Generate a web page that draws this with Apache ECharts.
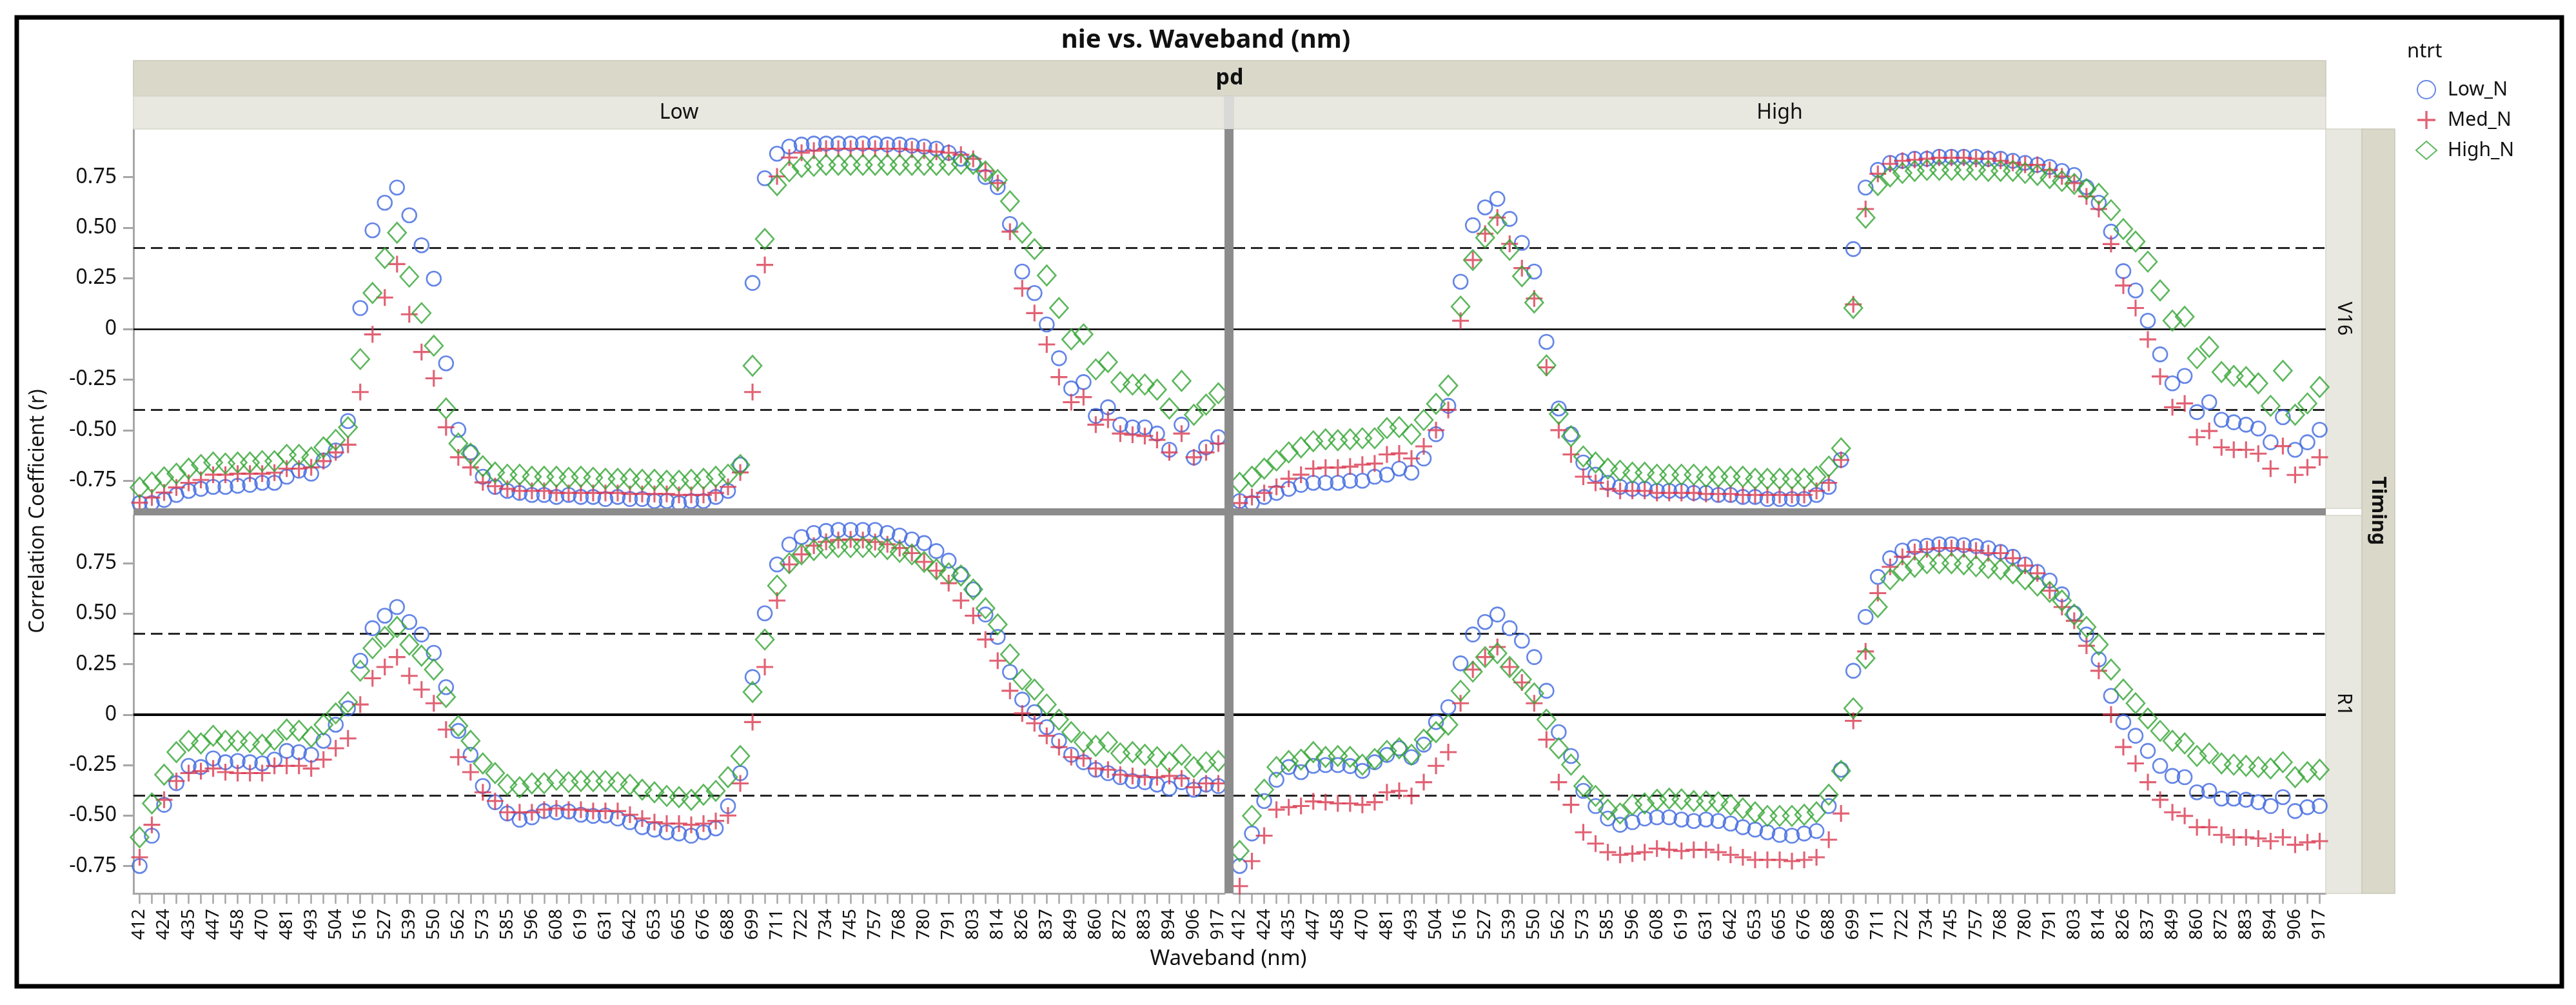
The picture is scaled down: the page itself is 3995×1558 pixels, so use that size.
<!DOCTYPE html>
<html><head><meta charset="utf-8">
<script src="https://cdn.jsdelivr.net/npm/echarts@6/dist/echarts.min.js"></script>
<style>html,body{margin:0;padding:0;background:#fff}#c{width:3995px;height:1558px}</style>
</head><body><div id="c"></div><script>
// ---------- DATA ----------
const wavebands = [412,418,424,430,435,441,447,452,458,464,470,475,481,487,493,498,504,510,516,521,527,533,539,544,550,556,562,567,573,579,585,590,596,602,608,613,619,625,631,636,642,647,653,659,665,670,676,682,688,693,699,705,711,716,722,728,734,739,745,751,757,762,768,774,780,785,791,797,803,808,814,820,826,831,837,843,849,854,860,866,872,877,883,889,894,900,906,911,917];
const yTicks = [-0.75,-0.5,-0.25,0,0.25,0.5,0.75];
const thresholds = [0.4,-0.4];
const seriesNames = ['Low_N','Med_N','High_N'];
const pdLevels = ['Low','High'];
const timingLevels = ['V16','R1'];

// Timing V16, pd Low
const lowN_V16_Low = [-0.86,-0.86,-0.845,-0.82,-0.80,-0.79,-0.78,-0.78,-0.775,-0.77,
 -0.76,-0.76,-0.73,-0.70,-0.715,-0.65,-0.60,-0.455,0.103,0.487,
 0.623,0.698,0.561,0.413,0.248,-0.17,-0.498,-0.61,-0.73,-0.78,
 -0.80,-0.81,-0.82,-0.82,-0.83,-0.82,-0.83,-0.83,-0.84,-0.83,
 -0.84,-0.84,-0.85,-0.85,-0.86,-0.85,-0.85,-0.83,-0.80,-0.67,
 0.227,0.744,0.865,0.90,0.91,0.915,0.915,0.915,0.915,0.915,
 0.915,0.91,0.91,0.905,0.90,0.89,0.87,0.84,0.82,0.75,
 0.70,0.518,0.283,0.177,0.022,-0.145,-0.294,-0.263,-0.43,-0.387,
 -0.473,-0.486,-0.486,-0.517,-0.597,-0.473,-0.635,-0.585,-0.535];
const medN_V16_Low = [-0.858,-0.833,-0.808,-0.783,-0.76,-0.746,-0.72,-0.72,-0.715,-0.715,
 -0.715,-0.71,-0.69,-0.69,-0.684,-0.653,-0.61,-0.572,-0.312,-0.027,
 0.155,0.32,0.072,-0.114,-0.244,-0.486,-0.634,-0.684,-0.758,-0.777,
 -0.79,-0.80,-0.80,-0.80,-0.81,-0.81,-0.81,-0.81,-0.81,-0.81,
 -0.815,-0.815,-0.815,-0.815,-0.82,-0.82,-0.82,-0.81,-0.78,-0.709,
 -0.312,0.316,0.753,0.846,0.87,0.88,0.89,0.89,0.89,0.89,
 0.89,0.89,0.89,0.885,0.88,0.875,0.87,0.86,0.84,0.78,
 0.72,0.48,0.20,0.078,-0.077,-0.238,-0.362,-0.337,-0.473,-0.449,
 -0.517,-0.523,-0.529,-0.548,-0.61,-0.517,-0.634,-0.61,-0.566];
const highN_V16_Low = [-0.783,-0.758,-0.733,-0.715,-0.69,-0.672,-0.66,-0.665,-0.66,-0.66,
 -0.653,-0.653,-0.622,-0.622,-0.635,-0.585,-0.548,-0.486,-0.149,0.177,
 0.35,0.475,0.258,0.078,-0.083,-0.393,-0.566,-0.616,-0.678,-0.709,
 -0.72,-0.72,-0.73,-0.73,-0.73,-0.735,-0.73,-0.735,-0.74,-0.74,
 -0.74,-0.745,-0.745,-0.75,-0.75,-0.745,-0.74,-0.73,-0.72,-0.672,
 -0.182,0.444,0.71,0.778,0.80,0.805,0.81,0.81,0.81,0.81,
 0.81,0.81,0.81,0.81,0.81,0.81,0.81,0.815,0.815,0.778,
 0.735,0.63,0.475,0.394,0.264,0.103,-0.052,-0.027,-0.20,-0.164,
 -0.263,-0.275,-0.275,-0.30,-0.393,-0.257,-0.424,-0.374,-0.318];

// Timing V16, pd High
const lowN_V16_High = [-0.85,-0.86,-0.83,-0.81,-0.79,-0.77,-0.76,-0.76,-0.76,-0.75,
 -0.75,-0.73,-0.72,-0.69,-0.71,-0.64,-0.52,-0.38,0.233,0.512,
 0.60,0.642,0.543,0.425,0.283,-0.064,-0.393,-0.52,-0.66,-0.72,
 -0.76,-0.78,-0.79,-0.79,-0.80,-0.80,-0.80,-0.81,-0.81,-0.82,
 -0.82,-0.83,-0.83,-0.84,-0.84,-0.84,-0.84,-0.82,-0.78,-0.647,
 0.394,0.698,0.785,0.82,0.83,0.84,0.84,0.85,0.85,0.85,
 0.85,0.84,0.84,0.83,0.82,0.81,0.80,0.78,0.76,0.70,
 0.623,0.48,0.285,0.19,0.04,-0.126,-0.269,-0.232,-0.411,-0.362,
 -0.449,-0.461,-0.473,-0.492,-0.56,-0.436,-0.597,-0.56,-0.498];
const medN_V16_High = [-0.86,-0.83,-0.81,-0.78,-0.74,-0.72,-0.69,-0.685,-0.685,-0.68,
 -0.67,-0.665,-0.62,-0.615,-0.64,-0.58,-0.50,-0.40,0.04,0.34,
 0.47,0.55,0.42,0.30,0.15,-0.19,-0.50,-0.62,-0.73,-0.76,
 -0.79,-0.80,-0.80,-0.80,-0.81,-0.81,-0.81,-0.81,-0.815,-0.815,
 -0.815,-0.82,-0.82,-0.82,-0.82,-0.82,-0.82,-0.80,-0.76,-0.647,
 0.121,0.592,0.766,0.815,0.83,0.835,0.84,0.845,0.845,0.845,
 0.84,0.84,0.83,0.82,0.81,0.81,0.785,0.753,0.72,0.654,
 0.592,0.419,0.214,0.103,-0.052,-0.235,-0.387,-0.368,-0.535,-0.504,
 -0.585,-0.597,-0.597,-0.616,-0.69,-0.579,-0.721,-0.684,-0.634];
const highN_V16_High = [-0.76,-0.73,-0.69,-0.65,-0.61,-0.585,-0.555,-0.545,-0.55,-0.545,
 -0.54,-0.54,-0.49,-0.485,-0.52,-0.45,-0.37,-0.28,0.11,0.34,
 0.45,0.52,0.39,0.26,0.13,-0.18,-0.42,-0.53,-0.63,-0.66,
 -0.69,-0.70,-0.71,-0.71,-0.72,-0.72,-0.72,-0.72,-0.73,-0.73,
 -0.73,-0.73,-0.74,-0.74,-0.74,-0.74,-0.74,-0.73,-0.68,-0.59,
 0.103,0.549,0.71,0.753,0.77,0.78,0.785,0.785,0.785,0.785,
 0.785,0.78,0.78,0.78,0.77,0.76,0.745,0.73,0.716,0.69,
 0.667,0.586,0.493,0.431,0.332,0.19,0.041,0.06,-0.145,-0.089,
 -0.213,-0.232,-0.238,-0.269,-0.38,-0.207,-0.424,-0.368,-0.287];

// Timing R1, pd Low
const lowN_R1_Low = [-0.75,-0.60,-0.447,-0.34,-0.254,-0.26,-0.217,-0.236,-0.23,-0.236,
 -0.242,-0.223,-0.18,-0.186,-0.199,-0.13,-0.05,0.031,0.267,0.428,
 0.49,0.533,0.459,0.397,0.306,0.136,-0.081,-0.199,-0.354,-0.434,
 -0.49,-0.521,-0.509,-0.478,-0.484,-0.48,-0.496,-0.502,-0.50,-0.515,
 -0.533,-0.558,-0.57,-0.583,-0.589,-0.60,-0.583,-0.564,-0.453,-0.29,
 0.186,0.502,0.744,0.843,0.88,0.90,0.91,0.915,0.915,0.915,
 0.915,0.90,0.887,0.868,0.85,0.81,0.763,0.695,0.62,0.496,
 0.385,0.211,0.074,0.012,-0.062,-0.13,-0.199,-0.236,-0.273,-0.29,
 -0.31,-0.329,-0.335,-0.347,-0.366,-0.335,-0.372,-0.347,-0.354];
const medN_R1_Low = [-0.707,-0.546,-0.422,-0.329,-0.29,-0.28,-0.267,-0.285,-0.29,-0.29,
 -0.29,-0.254,-0.254,-0.254,-0.267,-0.223,-0.167,-0.118,0.05,0.18,
 0.236,0.285,0.192,0.124,0.056,-0.074,-0.211,-0.285,-0.385,-0.428,
 -0.484,-0.484,-0.484,-0.471,-0.465,-0.471,-0.471,-0.478,-0.478,-0.478,
 -0.496,-0.515,-0.533,-0.54,-0.54,-0.546,-0.54,-0.527,-0.50,-0.341,
 -0.037,0.236,0.565,0.744,0.794,0.837,0.856,0.865,0.868,0.865,
 0.855,0.844,0.825,0.80,0.757,0.713,0.651,0.565,0.49,0.372,
 0.267,0.118,0.006,-0.043,-0.105,-0.161,-0.211,-0.217,-0.267,-0.273,
 -0.298,-0.304,-0.31,-0.31,-0.304,-0.316,-0.36,-0.341,-0.341];
const highN_R1_Low = [-0.608,-0.44,-0.298,-0.186,-0.13,-0.143,-0.105,-0.13,-0.13,-0.136,
 -0.149,-0.125,-0.074,-0.08,-0.11,-0.05,0.006,0.062,0.217,0.329,
 0.385,0.434,0.347,0.292,0.223,0.087,-0.056,-0.13,-0.242,-0.29,
 -0.347,-0.36,-0.341,-0.34,-0.323,-0.335,-0.329,-0.33,-0.33,-0.335,
 -0.347,-0.372,-0.385,-0.403,-0.409,-0.422,-0.397,-0.378,-0.31,-0.205,
 0.112,0.372,0.639,0.75,0.794,0.815,0.825,0.83,0.83,0.83,
 0.83,0.82,0.806,0.794,0.757,0.72,0.70,0.689,0.62,0.527,
 0.447,0.298,0.174,0.124,0.05,-0.025,-0.087,-0.136,-0.155,-0.136,
 -0.192,-0.186,-0.199,-0.211,-0.236,-0.199,-0.26,-0.236,-0.23];

// Timing R1, pd High
const lowN_R1_High = [-0.75,-0.589,-0.428,-0.323,-0.26,-0.285,-0.254,-0.25,-0.25,-0.255,
 -0.279,-0.236,-0.20,-0.167,-0.211,-0.149,-0.037,0.037,0.254,0.397,
 0.459,0.496,0.428,0.366,0.285,0.118,-0.087,-0.205,-0.378,-0.453,
 -0.515,-0.546,-0.533,-0.515,-0.509,-0.509,-0.52,-0.527,-0.52,-0.527,
 -0.54,-0.558,-0.57,-0.583,-0.596,-0.60,-0.589,-0.577,-0.453,-0.273,
 0.217,0.484,0.682,0.775,0.813,0.831,0.837,0.844,0.844,0.84,
 0.835,0.825,0.806,0.782,0.744,0.707,0.664,0.596,0.502,0.397,
 0.273,0.093,-0.037,-0.105,-0.18,-0.254,-0.304,-0.31,-0.385,-0.378,
 -0.416,-0.416,-0.422,-0.434,-0.453,-0.409,-0.478,-0.459,-0.453];
const medN_R1_High = [-0.85,-0.726,-0.60,-0.471,-0.459,-0.453,-0.43,-0.434,-0.44,-0.44,
 -0.447,-0.434,-0.385,-0.378,-0.403,-0.335,-0.254,-0.186,0.056,0.223,
 0.285,0.335,0.236,0.159,0.056,-0.124,-0.335,-0.447,-0.583,-0.639,
 -0.682,-0.695,-0.689,-0.682,-0.664,-0.67,-0.676,-0.67,-0.67,-0.682,
 -0.695,-0.707,-0.72,-0.72,-0.72,-0.726,-0.72,-0.707,-0.62,-0.49,
 -0.031,0.313,0.602,0.732,0.782,0.806,0.819,0.825,0.825,0.82,
 0.813,0.80,0.80,0.775,0.738,0.70,0.614,0.533,0.465,0.341,
 0.217,0.0,-0.161,-0.242,-0.335,-0.422,-0.484,-0.502,-0.558,-0.558,
 -0.596,-0.608,-0.608,-0.614,-0.627,-0.608,-0.645,-0.633,-0.627];
const highN_R1_High = [-0.676,-0.502,-0.372,-0.26,-0.23,-0.223,-0.186,-0.21,-0.205,-0.21,
 -0.248,-0.22,-0.18,-0.167,-0.199,-0.124,-0.087,-0.05,0.118,0.213,
 0.285,0.304,0.236,0.174,0.105,-0.025,-0.167,-0.248,-0.354,-0.403,
 -0.471,-0.49,-0.447,-0.44,-0.422,-0.416,-0.42,-0.428,-0.43,-0.434,
 -0.447,-0.465,-0.484,-0.502,-0.502,-0.502,-0.496,-0.484,-0.397,-0.279,
 0.031,0.279,0.533,0.67,0.713,0.732,0.75,0.75,0.75,0.745,
 0.735,0.726,0.72,0.70,0.67,0.639,0.608,0.565,0.496,0.434,
 0.347,0.223,0.124,0.056,-0.019,-0.081,-0.13,-0.143,-0.205,-0.192,
 -0.242,-0.248,-0.254,-0.26,-0.267,-0.236,-0.31,-0.285,-0.273];

// ---------- LAYOUT / STYLE ----------
const FONT = '"Noto Sans","Open Sans",sans-serif';
const AXIS_GRAY = '#a6a6a6';
const SEP_GRAY = '#8c8c8c';
const STRIP_DARK = '#dad8c9';
const STRIP_LIGHT = '#e8e8e0';
const grids = [
  {left:207, top:200, width:1692, height:588},
  {left:1913, top:200, width:1694, height:588},
  {left:207, top:799, width:1692, height:586},
  {left:1913, top:799, width:1694, height:586},
  {left:207, top:200, width:1692, height:1185}   // holder for the shared y-axis title
];
const Y_MIN = -0.886, Y_MAX = 0.987;

const panels = [
  {g:0, data:[lowN_V16_Low, medN_V16_Low, highN_V16_Low], zeroW:2.5},
  {g:1, data:[lowN_V16_High, medN_V16_High, highN_V16_High], zeroW:2.5},
  {g:2, data:[lowN_R1_Low, medN_R1_Low, highN_R1_Low], zeroW:4},
  {g:3, data:[lowN_R1_High, medN_R1_High, highN_R1_High], zeroW:4}
];

const markerStyle = {
  Low_N: {symbol:'circle', symbolSize:22, itemStyle:{color:'rgba(255,255,255,0)', borderColor:'#3f68e0', borderWidth:2.6}},
  Med_N: {symbol:'path://M44,0H56V44H100V56H56V100H44V56H0V44H44Z', symbolSize:26, itemStyle:{color:'#d93a50'}},
  High_N: {symbol:'diamond', symbolSize:[28,31], itemStyle:{color:'rgba(255,255,255,0)', borderColor:'#35a535', borderWidth:2.6}}
};

const xAxes = grids.slice(0,4).map((g,i) => {
  const bottom = i >= 2;
  return {
    gridIndex:i, type:'category', data: wavebands.map(String), boundaryGap:true,
    axisLine:{show:bottom, onZero:false, lineStyle:{color:AXIS_GRAY, width:3}},
    axisTick:{show:bottom, alignWithLabel:true, interval:0, length:16, lineStyle:{color:AXIS_GRAY, width:2.5}},
    axisLabel:{show:bottom, interval:1, rotate:90, fontSize:28, margin:24, color:'#111', fontFamily:FONT},
    splitLine:{show:false}
  };
});
xAxes.push({gridIndex:4, type:'value', show:false, min:0, max:1});

const yAxes = grids.slice(0,4).map((g,i) => {
  const left = (i % 2) === 0;
  return {
    gridIndex:i, type:'value', min:Y_MIN, max:Y_MAX,
    axisLine:{show:left, lineStyle:{color:AXIS_GRAY, width:3}},
    axisTick:{show:left, length:16, customValues:yTicks, lineStyle:{color:AXIS_GRAY, width:3}},
    axisLabel:{show:left, customValues:yTicks, fontSize:32, margin:26, color:'#111', fontFamily:FONT,
      formatter: v => (Math.abs(v) < 1e-9 ? '0' : v.toFixed(2))},
    splitLine:{show:false}
  };
});
yAxes.push({gridIndex:4, type:'value', min:0, max:1,
  name:'Correlation Coefficient (r)', nameLocation:'middle', nameGap:132,
  nameTextStyle:{fontSize:32, color:'#111', fontFamily:FONT},
  axisLine:{show:false}, axisTick:{show:false}, axisLabel:{show:false}, splitLine:{show:false}});

const series = [];
panels.forEach(p => {
  seriesNames.forEach((nm, k) => {
    const s = Object.assign({
      name:nm, type:'scatter', xAxisIndex:p.g, yAxisIndex:p.g, data:p.data[k],
      silent:true, emphasis:{disabled:true}, animation:false, z:3+k
    }, markerStyle[nm]);
    if (k === 0) {
      const ml = [{yAxis:0, lineStyle:{color:'#000', width:p.zeroW, type:'solid'}}];
      thresholds.forEach(t => ml.push({yAxis:t, lineStyle:{color:'#262626', width:3, type:[18,9]}}));
      s.markLine = {silent:true, symbol:['none','none'], label:{show:false}, animation:false, data:ml, z:1};
    }
    series.push(s);
  });
});

function txt(x, y, text, size, opts) {
  opts = opts || {};
  return {type:'text', x:x, y:y, rotation:opts.rot || 0, z:opts.z || 50,
    style:{text:text, fill:'#111', font:(opts.bold ? 'bold ' : '') + size + 'px ' + FONT,
      textAlign:opts.align || 'center', textVerticalAlign:'middle', align:opts.align || 'center', verticalAlign:'middle'}};
}
function rect(x, y, w, h, fill, z, stroke) {
  return {type:'rect', z:z || 1, shape:{x:x, y:y, width:w, height:h},
    style:{fill:fill, stroke:stroke || null, lineWidth:stroke ? 1.5 : 0}};
}

const graphic = [
  rect(207, 94, 3400, 55, STRIP_DARK, 1, '#c9c7b8'),
  rect(207, 149, 1692, 51, STRIP_LIGHT, 1, '#d6d5c9'),
  rect(1913, 149, 1694, 51, STRIP_LIGHT, 1, '#d6d5c9'),
  rect(1899, 149, 14, 51, '#d9d9d9', 1),
  rect(3607, 200, 56, 588, STRIP_LIGHT, 1, '#d6d5c9'),
  rect(3607, 799, 56, 586, STRIP_LIGHT, 1, '#d6d5c9'),
  rect(3663, 200, 51, 1185, STRIP_DARK, 1, '#c9c7b8'),
  rect(1899, 200, 14, 1185, SEP_GRAY, 60),
  rect(207, 788, 3400, 11, SEP_GRAY, 60),
  txt(1870, 63, 'nie vs. Waveband (nm)', 40, {bold:true}),
  txt(1907, 121, 'pd', 34, {bold:true}),
  txt(1053, 175, pdLevels[0], 32),
  txt(2760, 175, pdLevels[1], 32),
  txt(3635, 494, timingLevels[0], 30, {rot:-Math.PI/2}),
  txt(3635, 1092, timingLevels[1], 30, {rot:-Math.PI/2}),
  txt(3688, 792, 'Timing', 31, {bold:true, rot:-Math.PI/2}),
  txt(1905, 1487, 'Waveband (nm)', 33),
  txt(3733, 80, 'ntrt', 31, {align:'left'}),
  {type:'rect', z:100, shape:{x:26, y:27, width:3947, height:1502}, style:{fill:null, stroke:'#000', lineWidth:7}}
];

const chart = echarts.init(document.getElementById('c'), null, {renderer:'canvas', width:3995, height:1558});
chart.setOption({
  animation:false,
  backgroundColor:'#ffffff',
  grid: grids,
  xAxis: xAxes,
  yAxis: yAxes,
  legend: {orient:'vertical', left:3741, top:119, itemWidth:32, itemHeight:28, itemGap:17,
    data:seriesNames, selectedMode:false,
    textStyle:{fontSize:30, color:'#111', fontFamily:FONT, padding:[0,0,0,12]}},
  graphic: graphic,
  series: series
});
</script></body></html>
